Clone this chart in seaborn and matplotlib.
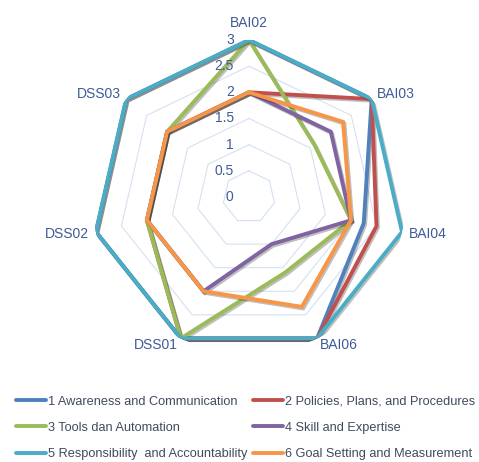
import numpy as np
import pandas as pd
import matplotlib
matplotlib.use("Agg")
import matplotlib.pyplot as plt
import matplotlib.patheffects as pe
import seaborn as sns

# categories (clockwise from top) and series values
categories = ['BAI02', 'BAI03', 'BAI04', 'BAI06', 'DSS01', 'DSS02', 'DSS03']
awareness = [3, 3, 2.25, 3, 3, 3, 3]
policies = [2, 3, 2.5, 3, 3, 2, 2]
tools = [3, 1.6, 2, 1.6, 3, 2, 2]
skill = [2, 2, 2, 1, 2, 2, 2]
responsibility = [3, 3, 3, 3, 3, 3, 3]
goal = [2, 2.3, 2, 2.33, 2, 2, 2]
series_names = ['1 Awareness and Communication', '2 Policies, Plans, and Procedures',
                '3 Tools dan Automation', '4 Skill and Expertise',
                '5 Responsibility  and Accountability', '6 Goal Setting and Measurement']
colors = ['#4F81BD', '#C0504D', '#9BBB59', '#8064A2', '#4BACC6', '#F79646']
levels = [0, 0.5, 1, 1.5, 2, 2.5, 3]
level_labels = ['0', '0.5', '1', '1.5', '2', '2.5', '3']

sns.set_theme(style='white')
plt.rcParams['font.family'] = ['Liberation Sans', 'DejaVu Sans']

n = len(categories)
theta = np.linspace(0, 2 * np.pi, n, endpoint=False)
theta_closed = np.append(theta, theta[0])

rows = []
for name, vals in zip(series_names, [awareness, policies, tools, skill, responsibility, goal]):
    for t, v in zip(theta_closed, list(vals) + [vals[0]]):
        rows.append({'series': name, 'theta': t, 'value': v})
df = pd.DataFrame(rows)

fig = plt.figure(figsize=(4.79, 4.62), dpi=100)
ax = fig.add_axes([0.192, 0.2338, 0.6555, 0.6797], projection='polar')
ax.set_theta_offset(np.pi / 2)
ax.set_theta_direction(-1)
ax.set_ylim(0, 3)
ax.grid(False)
ax.spines['polar'].set_visible(False)
ax.set_xticks([])
ax.set_yticks([])
ax.set_facecolor('none')

# heptagon gridlines
for lv in levels[1:]:
    ax.plot(theta_closed, [lv] * (n + 1), color='#d5e1f0', lw=0.8, zorder=1)

sns.lineplot(data=df, x='theta', y='value', hue='series', sort=False,
             palette=dict(zip(series_names, colors)), linewidth=2.8,
             ax=ax, legend=False, estimator=None, zorder=3)
for line in ax.lines[len(levels) - 1:]:
    line.set_path_effects([pe.SimpleLineShadow(offset=(1.0, -1.2), shadow_color='#000000', alpha=0.25),
                           pe.Normal()])
    line.set_solid_joinstyle('miter')
ax.set_xlabel('')
ax.set_ylabel('')

# radial value labels
for lv, lab in zip(levels, level_labels):
    ax.annotate(lab, xy=(0, lv), xytext=(-11, 0), textcoords='offset points',
                ha='right', va='center', fontsize=10, color='#3f5b96', zorder=5)

# category labels
for t, cat in zip(theta, categories):
    ang = np.pi / 2 - t
    c, s = np.cos(ang), np.sin(ang)
    if c > 0.2:
        ha = 'left'
    elif c < -0.2:
        ha = 'right'
    else:
        ha = 'center'
    va = 'bottom' if s > 0.95 else 'center'
    ax.annotate(cat, xy=(t, 3), xytext=(5 * c, 5.5 * s + (2 if s > 0.95 else 0)),
                textcoords='offset points', ha=ha, va=va, fontsize=10,
                color='#3f5b96', annotation_clip=False)

handles = [plt.Line2D([], [], color=c, lw=2.8) for c in colors]
order = [0, 2, 4, 1, 3, 5]
fig.legend([handles[i] for i in order], [series_names[i] for i in order],
           loc='upper left', bbox_to_anchor=(0.022, 0.155), ncol=2, frameon=False,
           fontsize=9.2, handlelength=2.4, handletextpad=0.15, columnspacing=0.4,
           labelspacing=1.12, borderaxespad=0, labelcolor='#404a5e')

fig.savefig('out.png', dpi=100)
